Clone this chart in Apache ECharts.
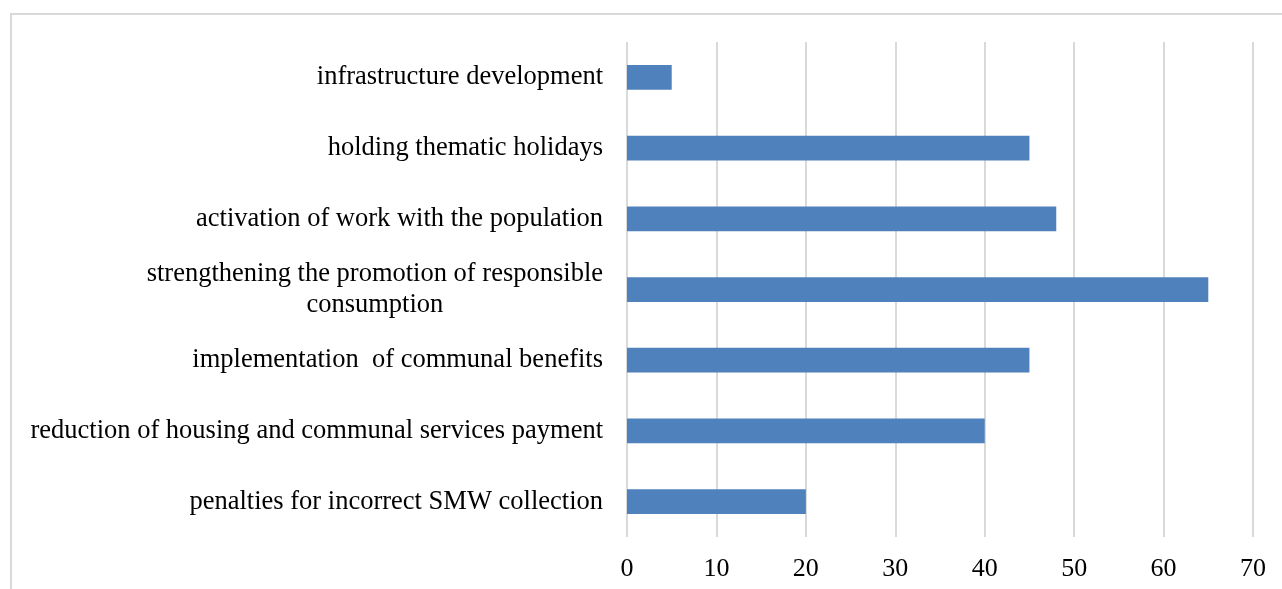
<!DOCTYPE html>
<html>
<head>
<meta charset="utf-8">
<script src="https://cdn.jsdelivr.net/npm/echarts@6/dist/echarts.min.js"></script>
<style>
  html, body { margin: 0; padding: 0; background: #fff; }
  #chart { width: 1282px; height: 589px; }
</style>
</head>
<body>
<div id="chart"></div>
<script>
// Measures, listed top to bottom as drawn
const categories = [
  'infrastructure development',
  'holding thematic holidays',
  'activation of work with the population',
  'strengthening the promotion of responsible\nconsumption',
  'implementation  of communal benefits',
  'reduction of housing and communal services payment',
  'penalties for incorrect SMW collection'
];
const values = [5, 45, 48, 65, 45, 40, 20];
const xTicks = [0, 10, 20, 30, 40, 50, 60, 70];

const FONT = "'Times New Roman', 'Liberation Serif', serif";
const LABEL_SIZE = 26.5;

const chart = echarts.init(document.getElementById('chart'), null, { renderer: 'canvas' });

// width of the widest line of a label, used to centre wrapped lines
function lineWidth(text) {
  const ctx = document.createElement('canvas').getContext('2d');
  ctx.font = LABEL_SIZE + 'px ' + FONT;
  return Math.max.apply(null, text.split('\n').map(function (l) { return ctx.measureText(l).width; }));
}

// category axis runs bottom-up, so reverse for top-to-bottom order
const yData = categories.slice().reverse().map(function (c) {
  if (c.indexOf('\n') >= 0) {
    // wrapped label: block stays right-aligned, its lines centred on each other
    const w = lineWidth(c);
    return { value: c, textStyle: { align: 'center', padding: [6, w, 0, 0] } };
  }
  return c;
});

chart.setOption({
  animation: false,
  backgroundColor: '#ffffff',
  graphic: [{
    type: 'rect',
    shape: { x: 11, y: 14, width: 1300, height: 620 },
    style: { fill: 'none', stroke: '#d9d9d9', lineWidth: 2 },
    silent: true,
    z: -1
  }],
  grid: { left: 627, right: 29, top: 42, bottom: 52, containLabel: false },
  xAxis: {
    type: 'value',
    min: xTicks[0],
    max: xTicks[xTicks.length - 1],
    interval: 10,
    axisLine: { show: false },
    axisTick: { show: false },
    splitLine: { show: true, lineStyle: { color: '#d9d9d9', width: 2 } },
    axisLabel: { color: '#000', fontFamily: FONT, fontSize: 26, margin: 19 }
  },
  yAxis: {
    type: 'category',
    data: yData,
    axisLine: { show: false },
    axisTick: { show: false },
    axisLabel: {
      color: '#000', fontFamily: FONT, fontSize: LABEL_SIZE, margin: 24,
      lineHeight: 31, interval: 0, padding: [6, 0, 0, 0]
    }
  },
  series: [{
    type: 'bar',
    data: values.slice().reverse(),
    barCategoryGap: '65%',
    itemStyle: { color: '#4f81bd' }
  }]
});
</script>
</body>
</html>
